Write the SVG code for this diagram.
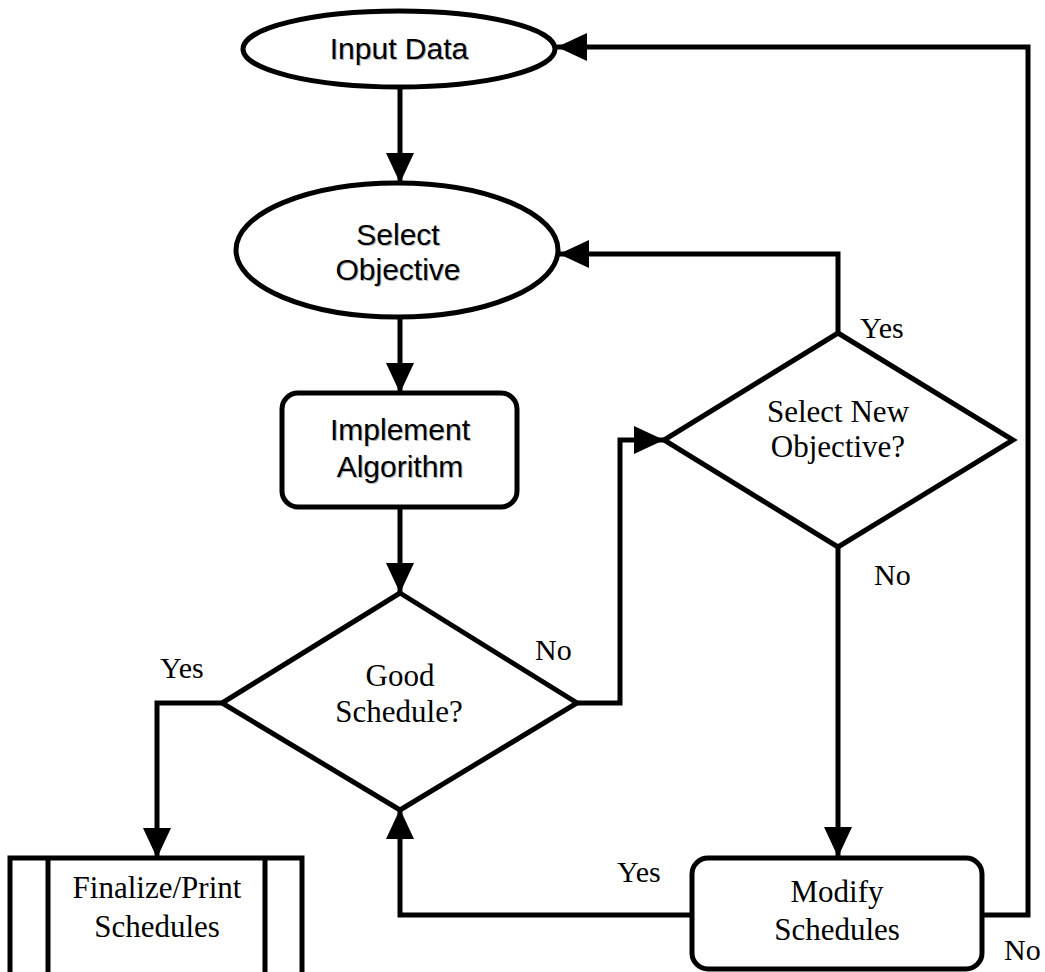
<svg xmlns="http://www.w3.org/2000/svg" width="1045" height="972" viewBox="0 0 1045 972">
<style>
.shape{fill:#fff;stroke:#000;stroke-width:5}
.conn{fill:none;stroke:#000;stroke-width:5;stroke-linejoin:miter}
.sans{font-family:"Liberation Sans",Arial,sans-serif;font-size:30px;text-anchor:middle;fill:#000}
.shadow{font-family:"Liberation Sans",Arial,sans-serif;font-size:30px;text-anchor:middle;fill:#b4b4b4}
.serif{font-family:"Liberation Serif","Times New Roman",serif;font-size:31px;text-anchor:middle;fill:#000}
.lbl{font-family:"Liberation Serif","Times New Roman",serif;font-size:30px;fill:#000}
</style>
<defs>
<marker id="arr" markerUnits="userSpaceOnUse" markerWidth="30" markerHeight="28" refX="30" refY="14" orient="auto">
<path d="M0,0 L30,14 L0,28 Z" fill="#000"/>
</marker>
</defs>
<rect width="1045" height="972" fill="#fff"/>
<g id="connectors">
<path class="conn" d="M400,88 V183" marker-end="url(#arr)"/>
<path class="conn" d="M400,317 V393" marker-end="url(#arr)"/>
<path class="conn" d="M400,507 V593" marker-end="url(#arr)"/>
<path class="conn" d="M222,703 H157 V858" marker-end="url(#arr)"/>
<path class="conn" d="M577,703 H620 V440 H664" marker-end="url(#arr)"/>
<path class="conn" d="M838,333 V254 H559" marker-end="url(#arr)"/>
<path class="conn" d="M838,548 V857" marker-end="url(#arr)"/>
<path class="conn" d="M692,915 H400 V809" marker-end="url(#arr)"/>
<path class="conn" d="M982,915 H1028 V47 H557" marker-end="url(#arr)"/>
</g>
<g id="input-data">
<ellipse class="shape" cx="399" cy="49" rx="156" ry="38"/>
<text class="shadow" x="400" y="60">Input Data</text>
<text class="sans" x="399" y="59">Input Data</text>
</g>
<g id="select-objective">
<ellipse class="shape" cx="397" cy="250" rx="161" ry="67"/>
<text class="shadow" x="399" y="246">Select</text>
<text class="sans" x="398" y="245">Select</text>
<text class="shadow" x="399" y="281">Objective</text>
<text class="sans" x="398" y="280">Objective</text>
</g>
<g id="implement-algorithm">
<rect class="shape" x="282" y="393" width="235" height="114" rx="16"/>
<text class="shadow" x="401" y="441">Implement</text>
<text class="sans" x="400" y="440">Implement</text>
<text class="shadow" x="401" y="478">Algorithm</text>
<text class="sans" x="400" y="477">Algorithm</text>
</g>
<g id="good-schedule">
<polygon class="shape" points="400,593 577,703 400,810 222,703"/>
<text class="serif" x="400" y="686">Good</text>
<text class="serif" x="399" y="722">Schedule?</text>
</g>
<g id="select-new-objective">
<polygon class="shape" points="838,333 1013,440 838,547 664,440"/>
<text class="serif" x="838" y="422">Select New</text>
<text class="serif" x="838" y="457">Objective?</text>
</g>
<g id="finalize">
<rect class="shape" x="10" y="858" width="292" height="130"/>
<line class="conn" x1="48" y1="858" x2="48" y2="988"/>
<line class="conn" x1="265" y1="858" x2="265" y2="988"/>
<text class="serif" x="157" y="898">Finalize/Print</text>
<text class="serif" x="157" y="937">Schedules</text>
</g>
<g id="modify-schedules">
<rect class="shape" x="692" y="858" width="290" height="111" rx="16"/>
<text class="serif" x="837" y="902">Modify</text>
<text class="serif" x="837" y="940">Schedules</text>
</g>
<g id="labels">
<text class="lbl" x="160" y="678">Yes</text>
<text class="lbl" x="535" y="660">No</text>
<text class="lbl" x="860" y="338">Yes</text>
<text class="lbl" x="874" y="585">No</text>
<text class="lbl" x="617" y="882">Yes</text>
<text class="lbl" x="1004" y="960">No</text>
</g>
</svg>
